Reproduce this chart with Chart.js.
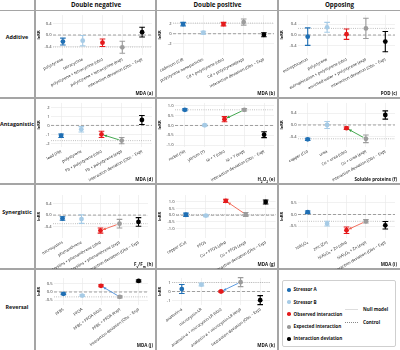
<!DOCTYPE html>
<html>
<head>
<meta charset="utf-8">
<script src="https://cdn.jsdelivr.net/npm/chart.js@4.4.1/dist/chart.umd.min.js"></script>
<style>
  html, body { margin: 0; padding: 0; background: #fff; }
  body { width: 400px; height: 350px; position: relative; overflow: hidden;
         font-family: "Open Sans", "DejaVu Sans", sans-serif; color: #111; }
  .rule { position: absolute; background: #a5a5a5; }
  .head { position: absolute; top: 0; height: 10px; line-height: 10px; font-size: 6.2px;
          font-weight: 700; text-align: center; }
  .rowlab { position: absolute; left: 0; width: 34px; font-size: 5.4px; font-weight: 700;
            text-align: center; line-height: 8px; white-space: nowrap; }
  .tag { position: absolute; font-size: 4.5px; font-weight: 700; text-align: right;
         white-space: nowrap; line-height: 5px; }
  .tag sub { font-size: 3.2px; }
  canvas { position: absolute; }
  #legend { position: absolute; left: 282px; top: 280px; width: 114px; height: 67px;
            border: 1px solid #cfcfcf; border-radius: 2px; box-sizing: border-box;
            font-size: 4.6px; font-weight: 700; }
  #legend .it { position: absolute; left: 4px; white-space: nowrap; line-height: 5px; }
  #legend .dot { display: inline-block; width: 3.6px; height: 3.6px; border-radius: 50%;
                 margin-right: 3px; vertical-align: middle; }
  #legend .ln { position: absolute; left: 62px; width: 13px; height: 0; }
  #legend .lt { position: absolute; left: 80px; line-height: 5px; }
</style>
</head>
<body>
<div id="legend">
  <div class="it" style="top:6px"><span class="dot" style="background:#1f6fb4"></span>Stressor A</div>
  <div class="it" style="top:18.5px"><span class="dot" style="background:#a6cbe6"></span>Stressor B</div>
  <div class="it" style="top:30.5px"><span class="dot" style="background:#e41a1c"></span>Observed interaction</div>
  <div class="it" style="top:43px"><span class="dot" style="background:#999"></span>Expected interaction</div>
  <div class="it" style="top:55px"><span class="dot" style="background:#000"></span>Interaction deviation</div>
  <div class="ln" style="top:28px;border-top:1.3px solid #ddd"></div>
  <div class="lt" style="top:25.5px">Null model</div>
  <div class="ln" style="top:41px;border-top:1px dotted #888"></div>
  <div class="lt" style="top:38.5px">Control</div>
</div>
<script>
// ---- data, one entry per panel ----
// panel order: a, b, c, d, e, f, h, g, i, j, k
const panelTags = ['MDA (a)', 'MDA (b)', 'POD (c)', 'MDA (d)', 'H<sub>2</sub>O<sub>2</sub> (e)',
  'Soluble proteins (f)', 'F<sub>v</sub>/F<sub>m</sub> (h)', 'MDA (g)', 'MDA (i)', 'MDA (j)', 'MDA (k)'];

const categoryLabels = [
  ['polystyrene', 'tetracycline', 'polystyrene + tetracycline (obs)', 'polystyrene + tetracycline (exp)', 'Interaction deviation (Obs − Exp)'],
  ['cadmium (Cd)', 'polystyrene nanoparticles', 'Cd + polystyrene (obs)', 'Cd + polystyrene(exp)', 'Interaction deviation (Obs − Exp)'],
  ['eutrophication', 'polystyrene', 'eutrophication + polystyrene (obs)', 'enriched water + polystyrene (exp)', 'Interaction deviation (Obs − Exp)'],
  ['lead (Pb)', 'polystyrene', 'Pb + polystyrene (obs)', 'Pb + polystyrene (exp)', 'Interaction deviation (Obs − Exp)'],
  ['nickel (Ni)', 'yttrium (Y)', 'Ni + Y (obs)', 'Ni + Y (exp)', 'Interaction deviation (Obs − Exp)'],
  ['copper (Cu)', 'urea', 'Cu + urea (obs)', 'Cu + urea (exp)', 'Interaction deviation (Obs − Exp)'],
  ['microcystins', 'phenanthrene', 'microcystins + phenanthrene (obs)', 'microcystins + phenanthrene (exp)', 'Interaction deviation (Obs − Exp)'],
  ['copper (Cu)', 'PFOS', 'Cu + PFOS (obs)', 'Cu + PFOS (exp)', 'Interaction deviation (Obs − Exp)'],
  ['NiAl₂O₄', 'zinc (Zn)', 'NiAl₂O₄ + Zn (obs)', 'NiAl₂O₄ + Zn (exp)', 'Interaction deviation (Obs − Exp)'],
  ['PFBS', 'PFOA', 'PFBS + PFOA (obs)', 'PFBS + PFOA (exp)', 'Interaction deviation (Obs − Exp)'],
  ['anatoxin-a', 'microcystin-LR', 'anatoxin-a + microcystin-LR (obs)', 'anatoxin-a + microcystin-LR (exp)', 'Interaction deviation (Obs − Exp)']
];

// lnRR means: stressor A, stressor B, observed, expected, deviation
const meanValues = [
  [-0.23, -0.20, -0.27, -0.43, 0.10],
  [1.90, 0.20, 1.90, 2.30, -0.20],
  [-0.06, 0.28, 0.03, 0.24, -0.24],
  [-1.15, -0.43, -1.00, -1.69, 0.61],
  [0.80, 0.01, 0.32, 0.80, -0.47],
  [-0.49, 0.00, -0.11, -0.47, 0.34],
  [-0.12, -0.14, -0.54, -0.30, -0.24],
  [0.03, -0.03, 1.06, 0.05, 0.98],
  [0.10, -0.39, -0.67, -0.29, -0.46],
  [-0.11, -0.22, 0.38, -0.30, 0.68],
  [0.27, 0.77, 0.00, 1.04, -0.96]
];

// half-widths of the error bars
const errorValues = [
  [0.12, 0.18, 0.13, 0.21, 0.17],
  [0.35, 0.30, 0.35, 0.60, 0.40],
  [0.32, 0.18, 0.19, 0.37, 0.37],
  [0.20, 0.30, 0.35, 0.35, 0.50],
  [0.05, 0.05, 0.13, 0.06, 0.15],
  [0.04, 0.12, 0.04, 0.13, 0.14],
  [0.06, 0.15, 0.09, 0.15, 0.15],
  [0.12, 0.08, 0.12, 0.15, 0.15],
  [0.05, 0.10, 0.14, 0.07, 0.16],
  [0.05, 0.05, 0.06, 0.06, 0.06],
  [0.50, 0.15, 0.08, 0.50, 0.50]
];

const yTickValues = [
  [-0.4, 0, 0.4], [-2, 0, 2], [-0.4, 0, 0.4],
  [-2, -1, 0, 1, 2], [-1, -0.5, 0, 0.5, 1], [-0.4, 0, 0.4],
  [-0.4, 0, 0.4], [-1, -0.5, 0, 0.5, 1], [-0.5, 0, 0.5],
  [-0.5, 0, 0.5], [-1, 0, 1]
];

const yLimits = [
  [-0.7, 0.7], [-4.2, 3.7], [-0.73, 0.73],
  [-2.4, 2.5], [-1.1, 1.15], [-0.75, 0.75],
  [-0.8, 0.7], [-1.7, 1.5], [-1.0, 0.83],
  [-0.8, 0.86], [-1.5, 1.5]
];

// dotted reference line (null model level) per panel
const nullLevels = [-0.42, 2.1, 0.24, -1.69, 0.8, -0.47, -0.3, 0.05, -0.29, -0.3, 1.0];

const columnTitles = ['Double negative', 'Double positive', 'Opposing'];
const rowTitles = ['Additive', 'Antagonistic', 'Synergistic', 'Reversal'];

// ---- layout / style ----
const pointColors = ['#1f6fb4', '#a6cbe6', '#e41a1c', '#9c9c9c', '#000000'];
const arrowColors = [null, '#2f9e3c', '#f0604d', '#4b8fdb'];
const panelCell = [[0,0],[0,1],[0,2],[1,0],[1,1],[1,2],[2,0],[2,1],[2,2],[3,0],[3,1]];
const colBox = [[36, 120], [157, 121], [279, 121]];
const rowBox = [[11, 87], [99, 85], [185, 84], [270, 80]];
const rowPlotTop = [4, 3, 10, 8];
const rowAxisBand = [43, 37, 31, 45];
const rowRotation = [27, 29, 30, 37];
const axisW = [17, 16, 19, 15, 18, 19, 17, 19, 19, 18, 15];
const padR = [4, 4, 5, 4, 4, 5, 8, 2, 5, 8, 8];
const rowLabelY = [37, 124, 212, 307];

function addDiv(cls, css, html) {
  const d = document.createElement('div');
  d.className = cls;
  d.style.cssText = css;
  if (html) d.innerHTML = html;
  document.body.appendChild(d);
  return d;
}

// grid rules
addDiv('rule', 'left:0;top:10px;width:400px;height:1px');
[98, 184, 269].forEach(y => addDiv('rule', `left:0;top:${y - 1}px;width:400px;height:2px`));
[35, 156, 278].forEach(x => addDiv('rule', `left:${x - 1}px;top:0;width:2px;height:350px`));

columnTitles.forEach((t, c) => {
  addDiv('head', `left:${colBox[c][0]}px;width:${colBox[c][1]}px`, t);
});
rowTitles.forEach((t, r) => {
  addDiv('rowlab', `top:${rowLabelY[r] - 4}px`, t);
});

const overlay = {
  id: 'overlay',
  beforeDatasetsDraw(chart, args, opts) {
    const { ctx, chartArea: a, scales: { x, y } } = chart;
    const i = opts.panel;
    const means = meanValues[i], errs = errorValues[i];
    ctx.save();
    ctx.lineWidth = 0.8;
    // control at zero
    ctx.setLineDash([3, 2]);
    ctx.strokeStyle = '#8a8a8a';
    let yy = y.getPixelForValue(0);
    ctx.beginPath(); ctx.moveTo(a.left, yy); ctx.lineTo(a.right, yy); ctx.stroke();
    // null model
    ctx.setLineDash([0.8, 1.4]);
    ctx.strokeStyle = '#a0a0a0';
    yy = y.getPixelForValue(nullLevels[i]);
    ctx.beginPath(); ctx.moveTo(a.left, yy); ctx.lineTo(a.right, yy); ctx.stroke();
    ctx.setLineDash([]);
    // error bars
    ctx.lineWidth = 1.1;
    means.forEach((m, k) => {
      const px = x.getPixelForValue(k);
      const top = y.getPixelForValue(m + errs[k]);
      const bot = y.getPixelForValue(m - errs[k]);
      ctx.strokeStyle = pointColors[k];
      ctx.beginPath();
      ctx.moveTo(px, top); ctx.lineTo(px, bot);
      ctx.moveTo(px - 2.8, top); ctx.lineTo(px + 2.8, top);
      ctx.moveTo(px - 2.8, bot); ctx.lineTo(px + 2.8, bot);
      ctx.stroke();
    });
    // arrow from expected to observed
    const col = arrowColors[opts.row];
    if (col) {
      const x1 = x.getPixelForValue(3), y1 = y.getPixelForValue(means[3]);
      const x2 = x.getPixelForValue(2), y2 = y.getPixelForValue(means[2]);
      const ang = Math.atan2(y2 - y1, x2 - x1);
      const sx = x1 + Math.cos(ang) * 3, sy = y1 + Math.sin(ang) * 3;
      const ex = x2 - Math.cos(ang) * 2.6, ey = y2 - Math.sin(ang) * 2.6;
      ctx.strokeStyle = col; ctx.fillStyle = col; ctx.lineWidth = 0.9;
      ctx.beginPath(); ctx.moveTo(sx, sy); ctx.lineTo(ex, ey); ctx.stroke();
      ctx.beginPath();
      ctx.moveTo(ex, ey);
      ctx.lineTo(ex - Math.cos(ang - 0.45) * 3.2, ey - Math.sin(ang - 0.45) * 3.2);
      ctx.lineTo(ex - Math.cos(ang + 0.45) * 3.2, ey - Math.sin(ang + 0.45) * 3.2);
      ctx.closePath(); ctx.fill();
    }
    ctx.restore();
  }
};

panelCell.forEach(([r, c], i) => {
  const [cx, cw] = colBox[c];
  const [ry, rh] = rowBox[r];
  const cv = document.createElement('canvas');
  cv.width = cw; cv.height = rh;
  cv.style.left = cx + 'px'; cv.style.top = ry + 'px';
  cv.style.width = cw + 'px'; cv.style.height = rh + 'px';
  document.body.appendChild(cv);

  const ticks = yTickValues[i];
  const decimals = ticks.every(v => Number.isInteger(v)) ? 0 : 1;

  new Chart(cv.getContext('2d'), {
    type: 'line',
    data: {
      labels: categoryLabels[i],
      datasets: [{
        data: meanValues[i],
        showLine: false,
        pointRadius: 2.4,
        pointHoverRadius: 2.4,
        pointBorderWidth: 0,
        pointBackgroundColor: pointColors,
        pointBorderColor: pointColors
      }]
    },
    options: {
      responsive: false,
      animation: false,
      devicePixelRatio: 1,
      events: [],
      layout: { padding: { top: rowPlotTop[r], right: padR[i], left: 0, bottom: 0 } },
      plugins: {
        legend: { display: false },
        tooltip: { enabled: false },
        overlay: { panel: i, row: r }
      },
      scales: {
        x: {
          type: 'category',
          offset: true,
          grid: { offset: false, color: '#e8e8e8', lineWidth: 0.6, drawTicks: false },
          border: { display: false },
          ticks: {
            autoSkip: false,
            minRotation: rowRotation[r],
            maxRotation: rowRotation[r],
            padding: 2,
            color: '#222',
            font: { size: 4.0, family: '"Open Sans", sans-serif' }
          },
          afterFit: s => { s.height = rowAxisBand[r]; s.paddingLeft = 0; s.paddingRight = 0; }
        },
        y: {
          min: yLimits[i][0],
          max: yLimits[i][1],
          grid: { color: '#e8e8e8', lineWidth: 0.6, drawTicks: false },
          border: { display: false },
          afterBuildTicks: s => { s.ticks = ticks.map(v => ({ value: v })); },
          ticks: {
            padding: 1.5,
            color: '#333',
            font: { size: 4.1, family: '"Open Sans", sans-serif' },
            callback: v => Number(v).toFixed(decimals)
          },
          title: {
            display: true, text: 'lnRR', padding: 0, color: '#111',
            font: { size: 4.0, weight: 'bold', family: '"Open Sans", sans-serif' }
          },
          afterFit: s => { s.width = axisW[i]; }
        }
      }
    },
    plugins: [overlay]
  });

  addDiv('tag', `right:${400 - (cx + cw) + 3}px;top:${ry + rh - 7}px`, panelTags[i]);
});
</script>
</body>
</html>
